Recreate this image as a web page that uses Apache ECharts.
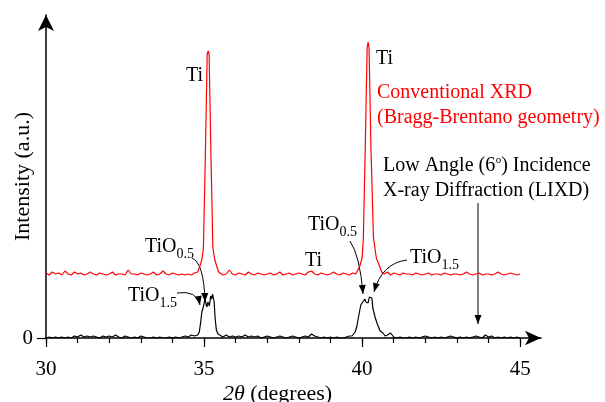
<!DOCTYPE html>
<html>
<head>
<meta charset="utf-8">
<script src="https://cdn.jsdelivr.net/npm/echarts@6/dist/echarts.min.js"></script>
<style>
  html, body { margin: 0; padding: 0; background: #fff; }
  #chart { width: 605px; height: 402px; }
</style>
</head>
<body>
<div id="chart"></div>
<script>
  // 2θ (deg), intensity (a.u.) — conventional XRD, offset upward
  var braggData = [
    [30.0, 65], [30.1, 63], [30.2, 66], [30.3, 64], [30.4, 65], [30.5, 63], [30.6, 67], [30.7, 64], [30.8, 63], [30.9, 66],
    [31.0, 64], [31.1, 65], [31.2, 63], [31.3, 64], [31.4, 66], [31.5, 64], [31.6, 63], [31.7, 65], [31.8, 64], [31.9, 63],
    [32.0, 64], [32.1, 66], [32.2, 63], [32.3, 64], [32.4, 64], [32.5, 63], [32.6, 68], [32.7, 64], [32.8, 64], [32.9, 63],
    [33.0, 65], [33.1, 64], [33.2, 63], [33.3, 64], [33.4, 66], [33.5, 63], [33.6, 64], [33.7, 67], [33.8, 64], [33.9, 63],
    [34.0, 65], [34.1, 64], [34.2, 63], [34.3, 64], [34.4, 63], [34.5, 64], [34.6, 63], [34.7, 65], [34.75, 64],
    [34.80, 66], [34.87, 72], [34.93, 78], [34.98, 90], [35.04, 180], [35.10, 284], [35.13, 287], [35.16, 284],
    [35.22, 180], [35.28, 90], [35.34, 78], [35.40, 72], [35.46, 66],
    [35.5, 65], [35.6, 63], [35.7, 64], [35.8, 68], [35.9, 64], [36.0, 63], [36.1, 65], [36.2, 64], [36.3, 63], [36.4, 66],
    [36.5, 64], [36.6, 63], [36.7, 65], [36.8, 64], [36.9, 63], [37.0, 64], [37.1, 65], [37.2, 63], [37.3, 64], [37.4, 66],
    [37.5, 63], [37.6, 64], [37.7, 65], [37.8, 63], [37.9, 64], [38.0, 65], [38.1, 64], [38.2, 63], [38.3, 66], [38.4, 67],
    [38.5, 64], [38.6, 63], [38.7, 65], [38.8, 64], [38.9, 63], [39.0, 64], [39.1, 66], [39.2, 64], [39.3, 63], [39.4, 65],
    [39.5, 64], [39.6, 63], [39.7, 65], [39.8, 64],
    [39.85, 66], [39.93, 72], [40.00, 80], [40.04, 100], [40.10, 190], [40.16, 290], [40.19, 296], [40.22, 290],
    [40.28, 190], [40.36, 100], [40.45, 80], [40.55, 72], [40.62, 66],
    [40.7, 64], [40.8, 66], [40.9, 63], [41.0, 65], [41.1, 64], [41.2, 63], [41.3, 65], [41.4, 64], [41.5, 64], [41.6, 63],
    [41.7, 65], [41.8, 64], [41.9, 63], [42.0, 64], [42.1, 65], [42.2, 63], [42.3, 64], [42.4, 64], [42.5, 63], [42.6, 65],
    [42.7, 64], [42.8, 63], [42.9, 64], [43.0, 64], [43.1, 63], [43.2, 64], [43.3, 66], [43.4, 64], [43.5, 63], [43.6, 64],
    [43.7, 65], [43.8, 63], [43.9, 64], [44.0, 64], [44.1, 63], [44.2, 64], [44.3, 66], [44.4, 64], [44.5, 63], [44.6, 64],
    [44.7, 65], [44.8, 64], [44.9, 63], [45.0, 64]
  ]

  // low angle incidence (LIXD)
  var lixdData = [
    [30.0, 0], [30.1, 1], [30.2, 0], [30.3, 1], [30.4, 0], [30.5, 1], [30.6, 0], [30.7, 1], [30.8, 0], [30.9, 2],
    [31.0, 1], [31.1, 3], [31.2, 1], [31.3, 2], [31.4, 1], [31.5, 2], [31.6, 1], [31.7, 0], [31.8, 2], [31.9, 1],
    [32.0, 2], [32.1, 1], [32.2, 3], [32.3, 1], [32.4, 0], [32.5, 2], [32.6, 1], [32.7, 0], [32.8, 1], [32.9, 0],
    [33.0, 2], [33.1, 1], [33.2, 0], [33.3, 0], [33.4, 1], [33.5, 0], [33.6, 1], [33.7, 0], [33.8, 0], [33.9, 1],
    [34.0, 0], [34.1, 1], [34.2, 0], [34.3, 1], [34.4, 2], [34.5, 1], [34.6, 3], [34.7, 2],
    [34.76, 3], [34.80, 3], [34.85, 6], [34.89, 15], [34.93, 26], [34.97, 30], [35.01, 36], [35.03, 40], [35.06, 34],
    [35.09, 31], [35.12, 36], [35.14, 38], [35.17, 32], [35.21, 42], [35.24, 39], [35.27, 44], [35.29, 46],
    [35.32, 36], [35.35, 20], [35.39, 8], [35.44, 4],
    [35.5, 2], [35.6, 1], [35.7, 3], [35.8, 1], [35.9, 2], [36.0, 1], [36.1, 2], [36.2, 1], [36.3, 3], [36.4, 1],
    [36.5, 2], [36.6, 1], [36.7, 2], [36.8, 0], [36.9, 1], [37.0, 2], [37.1, 1], [37.2, 0], [37.3, 1], [37.4, 2],
    [37.5, 1], [37.6, 0], [37.7, 1], [37.8, 2], [37.9, 1], [38.0, 0], [38.1, 1], [38.2, 2], [38.3, 1], [38.4, 4],
    [38.5, 2], [38.6, 1], [38.7, 0], [38.8, 1], [38.9, 0], [39.0, 1], [39.1, 0], [39.2, 1], [39.3, 0], [39.4, 0],
    [39.5, 1], [39.6, 2], [39.68, 2],
    [39.72, 2], [39.78, 6], [39.83, 11], [39.88, 20], [39.91, 25], [39.96, 33], [40.00, 34], [40.02, 36], [40.05, 34],
    [40.09, 39], [40.12, 36], [40.15, 37], [40.19, 35], [40.23, 41], [40.27, 39], [40.31, 40], [40.34, 30],
    [40.37, 26], [40.39, 24], [40.41, 21], [40.44, 18], [40.47, 15], [40.50, 13], [40.52, 11], [40.57, 7],
    [40.62, 6], [40.66, 5], [40.73, 2],
    [40.8, 3], [40.9, 5], [41.0, 1], [41.1, 0], [41.2, 1], [41.3, 0], [41.4, 0], [41.5, 1], [41.6, 0], [41.7, 1],
    [41.8, 0], [41.9, 1], [42.0, 2], [42.1, 1], [42.2, 0], [42.3, 1], [42.4, 0], [42.5, 1], [42.6, 0], [42.7, 1],
    [42.8, 2], [42.9, 1], [43.0, 0], [43.1, 1], [43.2, 0], [43.3, 1], [43.4, 0], [43.5, 1], [43.6, 2], [43.7, 1],
    [43.8, 0], [43.9, 3], [44.0, 1], [44.1, 2], [44.2, 0], [44.3, 1], [44.4, 0], [44.5, 1], [44.6, 0], [44.7, 1],
    [44.8, 0], [44.9, 1], [45.0, 0]
  ]

  var majorTicks = [30, 35, 40, 45]
  var minorTicks = [30, 31, 32, 33, 34, 35, 36, 37, 38, 39, 40, 41, 42, 43, 44, 45]
  var yTicks = [0]

  var serif = 'Liberation Serif'
  var chart = echarts.init(document.getElementById('chart'))

  // measure text so subscripts sit right after the main text
  var ctx = document.createElement('canvas').getContext('2d')
  function textWidth(str, size) {
    ctx.font = size + 'px "' + serif + '"'
    return ctx.measureText(str).width
  }

  var graphics = []
  function txt(x, capTop, str, size, color) {
    graphics.push({
      type: 'text', x: x, y: capTop - size * 0.12,
      style: { text: str, fill: color || '#000', font: size + 'px "' + serif + '"', textVerticalAlign: 'top' }
    })
  }
  function chem(x, capTop, main, sub) {
    txt(x, capTop, main, 20)
    txt(x + textWidth(main, 20), capTop + 10, sub, 14)
  }
  function arrow(x1, y1, cx, cy, x2, y2) {
    graphics.push({
      type: 'bezierCurve',
      shape: { x1: x1, y1: y1, cpx1: cx, cpy1: cy, x2: x2, y2: y2 },
      style: { stroke: '#000', lineWidth: 1, fill: null }
    })
    var dx = x2 - cx, dy = y2 - cy
    var len = Math.sqrt(dx * dx + dy * dy)
    dx /= len; dy /= len
    var L = 9, W = 3.5
    var bx = x2 - dx * L, by = y2 - dy * L
    graphics.push({
      type: 'polygon',
      shape: { points: [[x2, y2], [bx - dy * W, by + dx * W], [bx + dy * W, by - dx * W]] },
      style: { fill: '#000' }
    })
  }

  txt(186, 68, 'Ti', 20)
  txt(376, 51, 'Ti', 20)
  txt(305, 253, 'Ti', 20)
  txt(377, 85, 'Conventional XRD', 20, '#ff0000')
  txt(377, 110, '(Bragg-Brentano geometry)', 20, '#ff0000')
  // Low Angle (6°) line with superscript o
  var w1 = textWidth('Low Angle (6', 20)
  txt(383, 158, 'Low Angle (6', 20)
  txt(383 + w1 + 0.5, 156, 'o', 11)
  txt(383 + w1 + 6, 158, ') Incidence', 20)
  txt(383, 183, 'X-ray Diffraction (LIXD)', 20)

  chem(145, 239, 'TiO', '0.5')
  chem(128, 288, 'TiO', '1.5')
  chem(308, 217, 'TiO', '0.5')
  chem(410, 250, 'TiO', '1.5')

  arrow(192, 258, 204, 263, 205, 302)
  arrow(177, 293, 197, 290, 200, 305)
  arrow(350, 241, 360, 256, 363, 294)
  arrow(407, 260, 382, 263, 374, 292)
  arrow(478, 203, 478, 260, 478, 324)

  var axisFont = { fontFamily: serif, color: '#000' }
  var xMax = 45.66

  chart.setOption({
    animation: false,
    grid: { left: 46, right: 64, top: 15, bottom: 64, containLabel: false, outerBoundsMode: 'none' },
    xAxis: [
      {
        type: 'value', min: 30, max: xMax,
        axisLine: { lineStyle: { color: '#000', width: 1.5 }, symbol: ['none', 'arrow'], symbolSize: [11, 16] },
        axisTick: { customValues: minorTicks, length: 5, lineStyle: { color: '#000', width: 1.2 } },
        axisLabel: { show: false },
        splitLine: { show: false },
        name: '{i|2θ} (degrees)', nameLocation: 'middle', nameGap: 45, nameMoveOverlap: false,
        nameTextStyle: {
          fontFamily: serif, fontSize: 22, color: '#000', padding: [0, 32, 0, 0],
          rich: { i: { fontFamily: serif, fontSize: 22, fontStyle: 'italic', color: '#000' } }
        }
      },
      {
        type: 'value', min: 30, max: xMax, position: 'bottom',
        axisLine: { show: false },
        axisTick: { customValues: majorTicks, length: 9, lineStyle: { color: '#000', width: 1.2 } },
        axisLabel: Object.assign({ customValues: majorTicks, fontSize: 21, margin: 21 }, axisFont),
        splitLine: { show: false }
      }
    ],
    yAxis: {
      type: 'value', min: 0, max: 323,
      axisLine: { show: true, lineStyle: { color: '#000', width: 1.5 }, symbol: ['none', 'arrow'], symbolSize: [12, 16] },
      axisTick: { show: true, customValues: yTicks, length: 9, lineStyle: { color: '#000', width: 1.2 } },
      axisLabel: Object.assign({ customValues: yTicks, fontSize: 21, margin: 13 }, axisFont),
      splitLine: { show: false },
      name: 'Intensity (a.u.)', nameLocation: 'middle', nameGap: 12, nameMoveOverlap: false,
      nameTextStyle: { fontFamily: serif, fontSize: 22, color: '#000', padding: [14, 0, 0, 0] }
    },
    series: [
      {
        name: 'LIXD', type: 'line', data: lixdData, showSymbol: false,
        lineStyle: { color: '#000', width: 1.2 }, z: 3
      },
      {
        name: 'Bragg-Brentano', type: 'line', data: braggData, showSymbol: false,
        lineStyle: { color: '#ff0000', width: 1.2 }, z: 2
      }
    ],
    graphic: graphics
  })
</script>
</body>
</html>
